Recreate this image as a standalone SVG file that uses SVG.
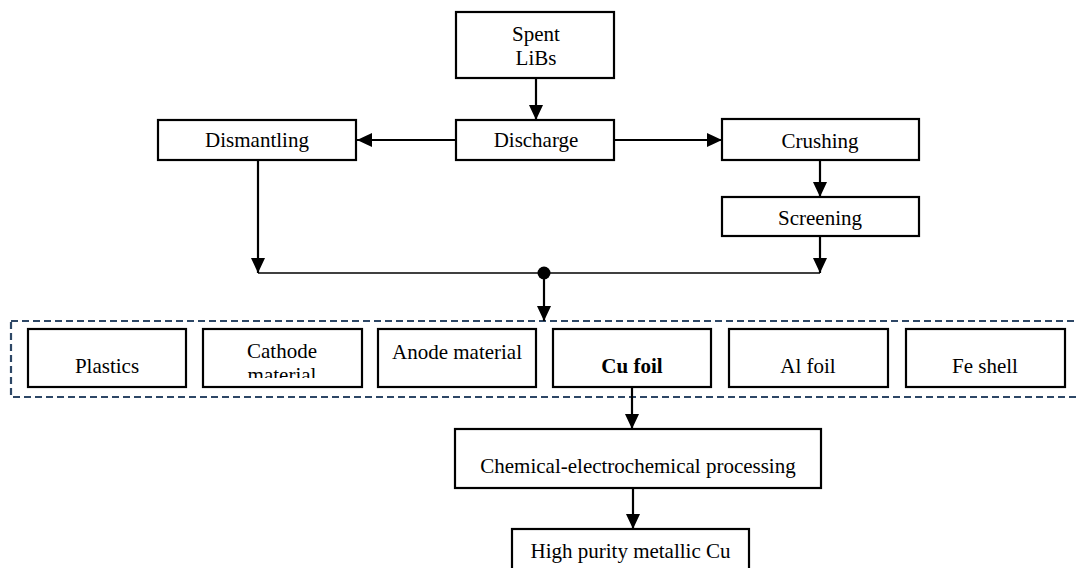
<svg xmlns="http://www.w3.org/2000/svg" width="1078" height="568" viewBox="0 0 1078 568">
<style>
.box{fill:#fff;stroke:#000;stroke-width:2.2}
.t{font-family:"Liberation Serif","Times New Roman",serif;font-size:21px;fill:#000;text-anchor:middle}
.b{font-weight:bold}
.ln{fill:none;stroke:#000;stroke-width:2.2}
.thin{fill:none;stroke:#000;stroke-width:1.6}
.dash{fill:none;stroke:#2d4766;stroke-width:2.2;stroke-dasharray:7 4}
</style>
<defs>
<marker id="ah" viewBox="0 0 15 14" refX="15" refY="7" markerWidth="15" markerHeight="14" markerUnits="userSpaceOnUse" orient="auto">
<path d="M0,0 L15,7 L0,14 Z" fill="#000"/>
</marker>
<clipPath id="cathClip"><rect x="203" y="329" width="159" height="49"/></clipPath>
</defs>
<rect width="1078" height="568" fill="#fff"/>
<rect class="dash" x="11" y="321" width="1072" height="76"/>
<g id="connectors">
<line class="ln" x1="536" y1="78" x2="536" y2="120" marker-end="url(#ah)"/>
<line class="ln" x1="456" y1="140" x2="357" y2="140" marker-end="url(#ah)"/>
<line class="ln" x1="614" y1="140" x2="722" y2="140" marker-end="url(#ah)"/>
<line class="ln" x1="820" y1="160" x2="820" y2="197" marker-end="url(#ah)"/>
<line class="ln" x1="820" y1="236" x2="820" y2="273" marker-end="url(#ah)"/>
<line class="ln" x1="258" y1="160" x2="258" y2="273" marker-end="url(#ah)"/>
<line class="thin" x1="258" y1="273" x2="820" y2="273"/>
<circle cx="544" cy="273" r="6.5" fill="#000"/>
<line class="ln" x1="544" y1="273" x2="544" y2="321" marker-end="url(#ah)"/>
<line class="ln" x1="632" y1="387" x2="632" y2="429" marker-end="url(#ah)"/>
<line class="ln" x1="633" y1="488" x2="633" y2="529" marker-end="url(#ah)"/>
</g>
<g id="spent"><rect class="box" x="456" y="12" width="158" height="66"/><text class="t" x="536" y="41">Spent</text><text class="t" x="536" y="65">LiBs</text></g>
<g id="discharge"><rect class="box" x="456" y="120" width="158" height="40"/><text class="t" x="536" y="147">Discharge</text></g>
<g id="dismantling"><rect class="box" x="158" y="120" width="198" height="40"/><text class="t" x="257" y="147">Dismantling</text></g>
<g id="crushing"><rect class="box" x="722" y="119" width="197" height="41"/><text class="t" x="820" y="148">Crushing</text></g>
<g id="screening"><rect class="box" x="722" y="197" width="197" height="39"/><text class="t" x="820" y="225">Screening</text></g>
<g id="plastics"><rect class="box" x="28" y="329" width="158" height="58"/><text class="t" x="107" y="373">Plastics</text></g>
<g id="cathode"><rect class="box" x="203" y="329" width="159" height="58"/><text class="t" x="282" y="358">Cathode</text><text class="t" x="282" y="382" clip-path="url(#cathClip)">material</text></g>
<g id="anode"><rect class="box" x="378" y="329" width="158" height="58"/><text class="t" x="457" y="359">Anode material</text></g>
<g id="cufoil"><rect class="box" x="553" y="329" width="158" height="58"/><text class="t b" x="632" y="373">Cu foil</text></g>
<g id="alfoil"><rect class="box" x="729" y="329" width="159" height="58"/><text class="t" x="808" y="373">Al foil</text></g>
<g id="feshell"><rect class="box" x="906" y="329" width="159" height="58"/><text class="t" x="985" y="373">Fe shell</text></g>
<g id="chem"><rect class="box" x="455" y="429" width="366" height="59"/><text class="t" x="638" y="473">Chemical-electrochemical processing</text></g>
<g id="highpurity"><rect class="box" x="512" y="529" width="237" height="50"/><text class="t" x="630.5" y="558">High purity metallic Cu</text></g>
</svg>
